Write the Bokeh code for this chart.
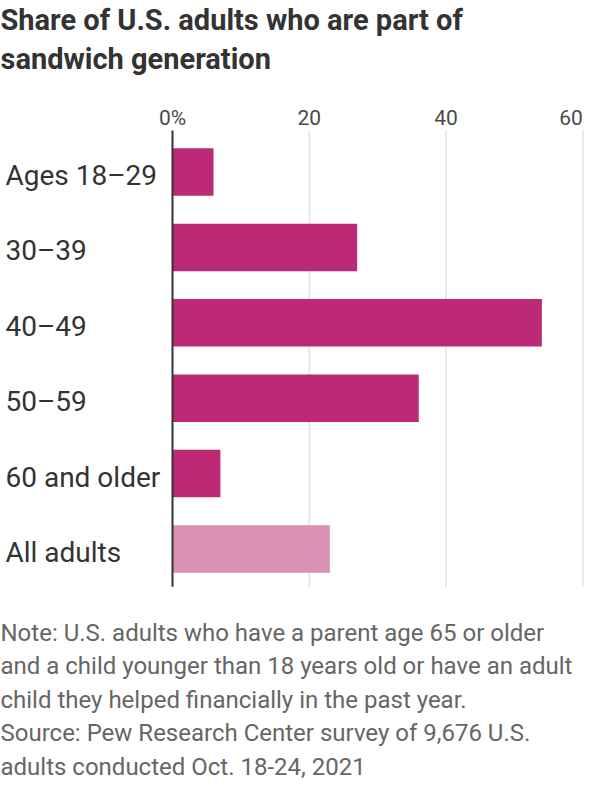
from bokeh.plotting import figure
from bokeh.models import Range1d
from bokeh.core.properties import value
from bokeh.embed import file_html
from bokeh.resources import INLINE

categories = ["Ages 18–29", "30–39", "40–49", "50–59", "60 and older", "All adults"]
shares = [6, 27, 54, 36, 7, 23]
bar_colors = ["#bc2a76", "#bc2a76", "#bc2a76", "#bc2a76", "#bc2a76", "#d990b2"]
tick_values = [0, 20, 40, 60]
tick_labels = ["0%", "20", "40", "60"]
title_lines = ["Share of U.S. adults who are part of", "sandwich generation"]
note_lines = [
    "Note: U.S. adults who have a parent age 65 or older",
    "and a child younger than 18 years old or have an adult",
    "child they helped financially in the past year.",
    "Source: Pew Research Center survey of 9,676 U.S.",
    "adults conducted Oct. 18-24, 2021",
]

FONT = value("Roboto")
W, H = 584, 784

# layout (pixels of the canvas)
X0_PX, UNIT_PX = 172.0, 6.84          # where 0 sits, pixels per percentage point
ROW0_PX, ROW_PX = 171.5, 75.4          # centre of first row, row pitch

p = figure(width=W, height=H, output_backend="svg", toolbar_location=None,
           x_range=Range1d(-X0_PX / UNIT_PX, (W - X0_PX) / UNIT_PX),
           y_range=Range1d((H - ROW0_PX) / ROW_PX, -ROW0_PX / ROW_PX),
           min_border=0, x_axis_location=None, y_axis_location=None)
p.extra_x_ranges = {"px": Range1d(0, W)}
p.extra_y_ranges = {"px": Range1d(H, 0)}
p.outline_line_color = None
p.grid.visible = False
p.background_fill_color = "white"
p.border_fill_color = "white"

idx = list(range(len(categories)))
n = len(categories)

# gridlines and zero axis line
p.segment(x0=tick_values[1:], x1=tick_values[1:], y0=-0.55, y1=n - 0.5,
          line_color="#e2e2e2", line_width=1.5)

p.hbar(y=idx, left=0, right=shares, height=0.63, color=bar_colors, line_color=None)

p.segment(x0=[0], x1=[0], y0=-0.55, y1=n - 0.5, line_color="#333333", line_width=2)

# tick labels
p.text(x=tick_values[:-1], y=[117] * 3, y_range_name="px", text=tick_labels[:-1],
       text_align="center", text_baseline="middle", text_font=FONT,
       text_font_size="21px", text_color="#4a4a4a")
p.text(x=tick_values[-1:], y=[117], y_range_name="px", text=tick_labels[-1:],
       text_align="right", text_baseline="middle", text_font=FONT,
       text_font_size="21px", text_color="#4a4a4a")

# category labels (centred a little below the bar centre)
label_y = [i + 3.5 / ROW_PX for i in idx]
p.text(x=[5] * n, x_range_name="px", y=label_y, text=categories,
       text_align="left", text_baseline="middle", text_font=FONT,
       text_font_size="28px", text_color="#333333")

# title
p.text(x=[0, 0], x_range_name="px", y=[19, 58], y_range_name="px", text=title_lines,
       text_align="left", text_baseline="middle", text_font=FONT,
       text_font_size="29px", text_font_style="bold", text_color="#333333")

# notes
note_y = [632 + 33.5 * k for k in range(len(note_lines))]
p.text(x=[0] * len(note_lines), x_range_name="px", y=note_y, y_range_name="px",
       text=note_lines, text_align="left", text_baseline="middle", text_font=FONT,
       text_font_size="24px", text_color="#666666")

open("out.html", "w").write(file_html(p, INLINE))
